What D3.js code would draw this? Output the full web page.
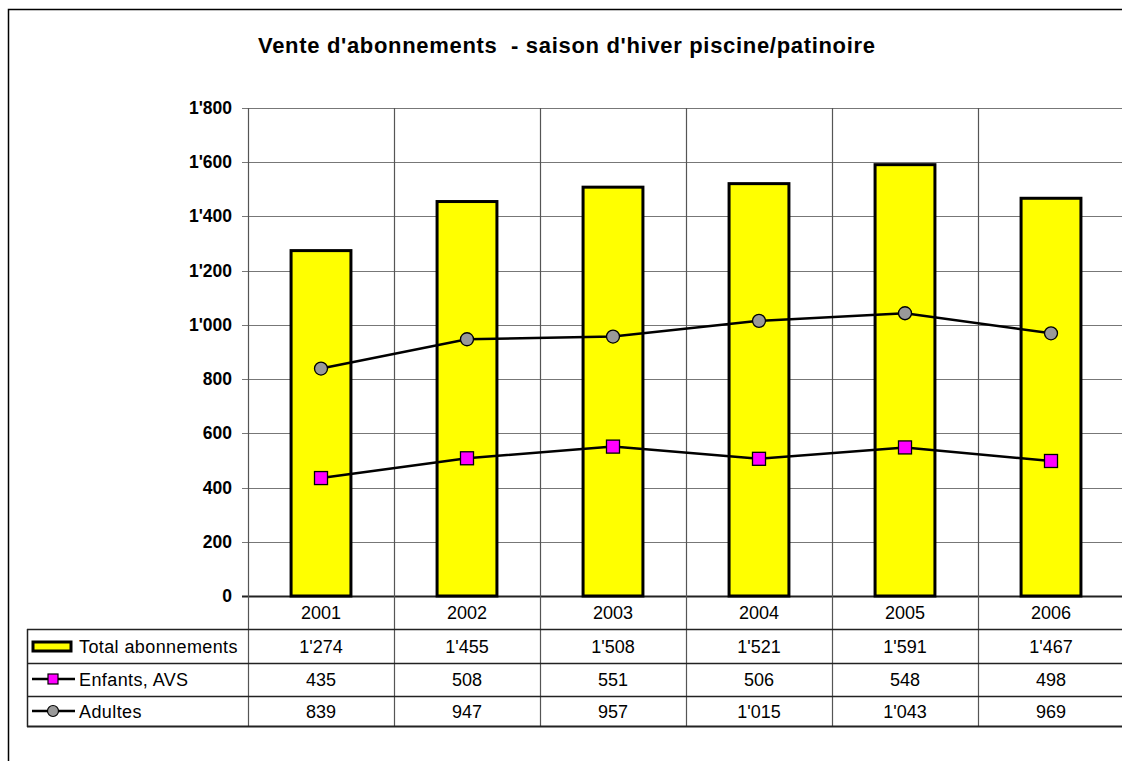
<!DOCTYPE html>
<meta charset="utf-8">
<script src="https://d3js.org/d3.v7.min.js"></script>
<style>
  body { margin: 0; background: #fff; }
  text { font-family: Arial, "Liberation Sans", sans-serif; }
</style>
<svg id="chart" width="1122" height="761"></svg>
<script>

// Data
var years = ["2001", "2002", "2003", "2004", "2005", "2006"];
var total = [1274, 1455, 1508, 1521, 1591, 1467];
var enfants = [435, 508, 551, 506, 548, 498];
var adultes = [839, 947, 957, 1015, 1043, 969];
var yTicks = [0, 200, 400, 600, 800, 1000, 1200, 1400, 1600, 1800];
var seriesNames = ["Total abonnements", "Enfants, AVS", "Adultes"];

var svg = d3.select("#chart");

// apostrophe as thousands separator
var fmt = function(v) {
  return d3.format(",")(v).replace(/,/g, "'");
};

// Scales
var x = d3.scaleBand()
  .domain(years)
  .range([248, 1124])
  .padding(0);

var y = d3.scaleLinear()
  .domain([0, 1800])
  .range([596, 108]);

var barW = x.bandwidth() * 0.41;
var cx = function(d, i) { return x(years[i]) + x.bandwidth() / 2 };

// outer frame (right and bottom are cut off)
svg.append("path")
  .attr("d", "M8.5,770 V9.5 H1130")
  .attr("fill", "none")
  .attr("stroke", "#000")
  .attr("stroke-width", 1.5);

// Title
svg.append("text")
  .attr("x", 258)
  .attr("y", 53)
  .attr("xml:space", "preserve")
  .attr("textLength", 617)
  .attr("lengthAdjust", "spacing")
  .style("font-size", "22px")
  .style("font-weight", "bold")
  .text("Vente d'abonnements  - saison d'hiver piscine/patinoire");

// horizontal gridlines
svg.append("g")
  .selectAll("line")
  .data(yTicks)
  .enter()
  .append("line")
    .attr("x1", 242)
    .attr("x2", 1122)
    .attr("y1", function(d) { return Math.round(y(d)) + 0.5 })
    .attr("y2", function(d) { return Math.round(y(d)) + 0.5 })
    .attr("stroke", function(d) { return d === 0 ? "#222" : "#777" })
    .attr("stroke-width", function(d) { return d === 0 ? 2 : 1.2 });

// vertical lines (plot + table)
var vx = years.map(function(d) { return x(d) });
svg.append("g")
  .selectAll("line")
  .data(vx)
  .enter()
  .append("line")
    .attr("x1", function(d) { return Math.round(d) + 0.5 })
    .attr("x2", function(d) { return Math.round(d) + 0.5 })
    .attr("y1", 108)
    .attr("y2", 726)
    .attr("stroke", "#555")
    .attr("stroke-width", 1.2);

// y labels
svg.append("g")
  .selectAll("text")
  .data(yTicks)
  .enter()
  .append("text")
    .attr("x", 232)
    .attr("y", function(d) { return y(d) + 6 })
    .attr("text-anchor", "end")
    .style("font-size", "17.5px")
    .style("font-weight", "bold")
    .text(function(d) { return fmt(d) });

// Bars
svg.append("g")
  .selectAll("rect")
  .data(total)
  .enter()
  .append("rect")
    .attr("x", function(d, i) { return cx(d, i) - barW / 2 })
    .attr("y", function(d) { return y(d) })
    .attr("width", barW)
    .attr("height", function(d) { return y(0) - y(d) })
    .attr("fill", "#ffff00")
    .attr("stroke", "#000")
    .attr("stroke-width", 3);

// Lines
var line = d3.line()
  .x(function(d, i) { return cx(d, i) })
  .y(function(d) { return y(d) });

[adultes, enfants].forEach(function(s) {
  svg.append("path")
    .datum(s)
    .attr("d", line)
    .attr("fill", "none")
    .attr("stroke", "#000")
    .attr("stroke-width", 2.5);
});

svg.append("g")
  .selectAll("circle")
  .data(adultes)
  .enter()
  .append("circle")
    .attr("cx", cx)
    .attr("cy", function(d) { return y(d) })
    .attr("r", 6.5)
    .attr("fill", "#999999")
    .attr("stroke", "#000")
    .attr("stroke-width", 1.3);

svg.append("g")
  .selectAll("rect")
  .data(enfants)
  .enter()
  .append("rect")
    .attr("x", function(d, i) { return cx(d, i) - 6.5 })
    .attr("y", function(d) { return y(d) - 6.5 })
    .attr("width", 13)
    .attr("height", 13)
    .attr("fill", "#ff00ff")
    .attr("stroke", "#000")
    .attr("stroke-width", 1.3);

// --------------- //
// DATA TABLE      //
// --------------- //

var rowLines = [629, 663, 696, 726];
var rowMid = [612, 646, 679, 711];

// header row with years
svg.append("g")
  .selectAll("text")
  .data(years)
  .enter()
  .append("text")
    .attr("x", function(d) { return x(d) + x.bandwidth() / 2 })
    .attr("y", rowMid[0] + 6.5)
    .attr("text-anchor", "middle")
    .style("font-size", "18px")
    .text(function(d) { return d });

// horizontal table lines
svg.append("g")
  .selectAll("line")
  .data(rowLines)
  .enter()
  .append("line")
    .attr("x1", 27)
    .attr("x2", 1122)
    .attr("y1", function(d) { return d + 0.5 })
    .attr("y2", function(d) { return d + 0.5 })
    .attr("stroke", "#222")
    .attr("stroke-width", function(d, i) { return i === 3 ? 2 : 1.5 });

// left border of the table
svg.append("line")
  .attr("x1", 27.5).attr("x2", 27.5)
  .attr("y1", 629).attr("y2", 727)
  .attr("stroke", "#222")
  .attr("stroke-width", 1.5);

// table values
var tableData = [total, enfants, adultes];
tableData.forEach(function(s, r) {
  svg.append("g")
    .selectAll("text")
    .data(s)
    .enter()
    .append("text")
      .attr("x", cx)
      .attr("y", rowMid[r + 1] + 6.5)
      .attr("text-anchor", "middle")
      .style("font-size", "18px")
      .text(function(d) { return fmt(d) });
});

// series labels
svg.append("g")
  .selectAll("text")
  .data(seriesNames)
  .enter()
  .append("text")
    .attr("x", 79)
    .attr("y", function(d, i) { return rowMid[i + 1] + 6.5 })
    .style("font-size", "18px")
    .style("letter-spacing", "0.4px")
    .text(function(d) { return d });

// legend keys
svg.append("rect")
  .attr("x", 33).attr("y", rowMid[1] - 4)
  .attr("width", 38).attr("height", 9)
  .attr("fill", "#ffff00")
  .attr("stroke", "#000")
  .attr("stroke-width", 3);

[2, 3].forEach(function(r) {
  svg.append("line")
    .attr("x1", 32).attr("x2", 75)
    .attr("y1", rowMid[r]).attr("y2", rowMid[r])
    .attr("stroke", "#000")
    .attr("stroke-width", 2.5);
});

svg.append("rect")
  .attr("x", 48).attr("y", rowMid[2] - 5)
  .attr("width", 10).attr("height", 10)
  .attr("fill", "#ff00ff")
  .attr("stroke", "#000")
  .attr("stroke-width", 1.2);

svg.append("circle")
  .attr("cx", 53).attr("cy", rowMid[3])
  .attr("r", 5.5)
  .attr("fill", "#999999")
  .attr("stroke", "#000")
  .attr("stroke-width", 1.2);

</script>
